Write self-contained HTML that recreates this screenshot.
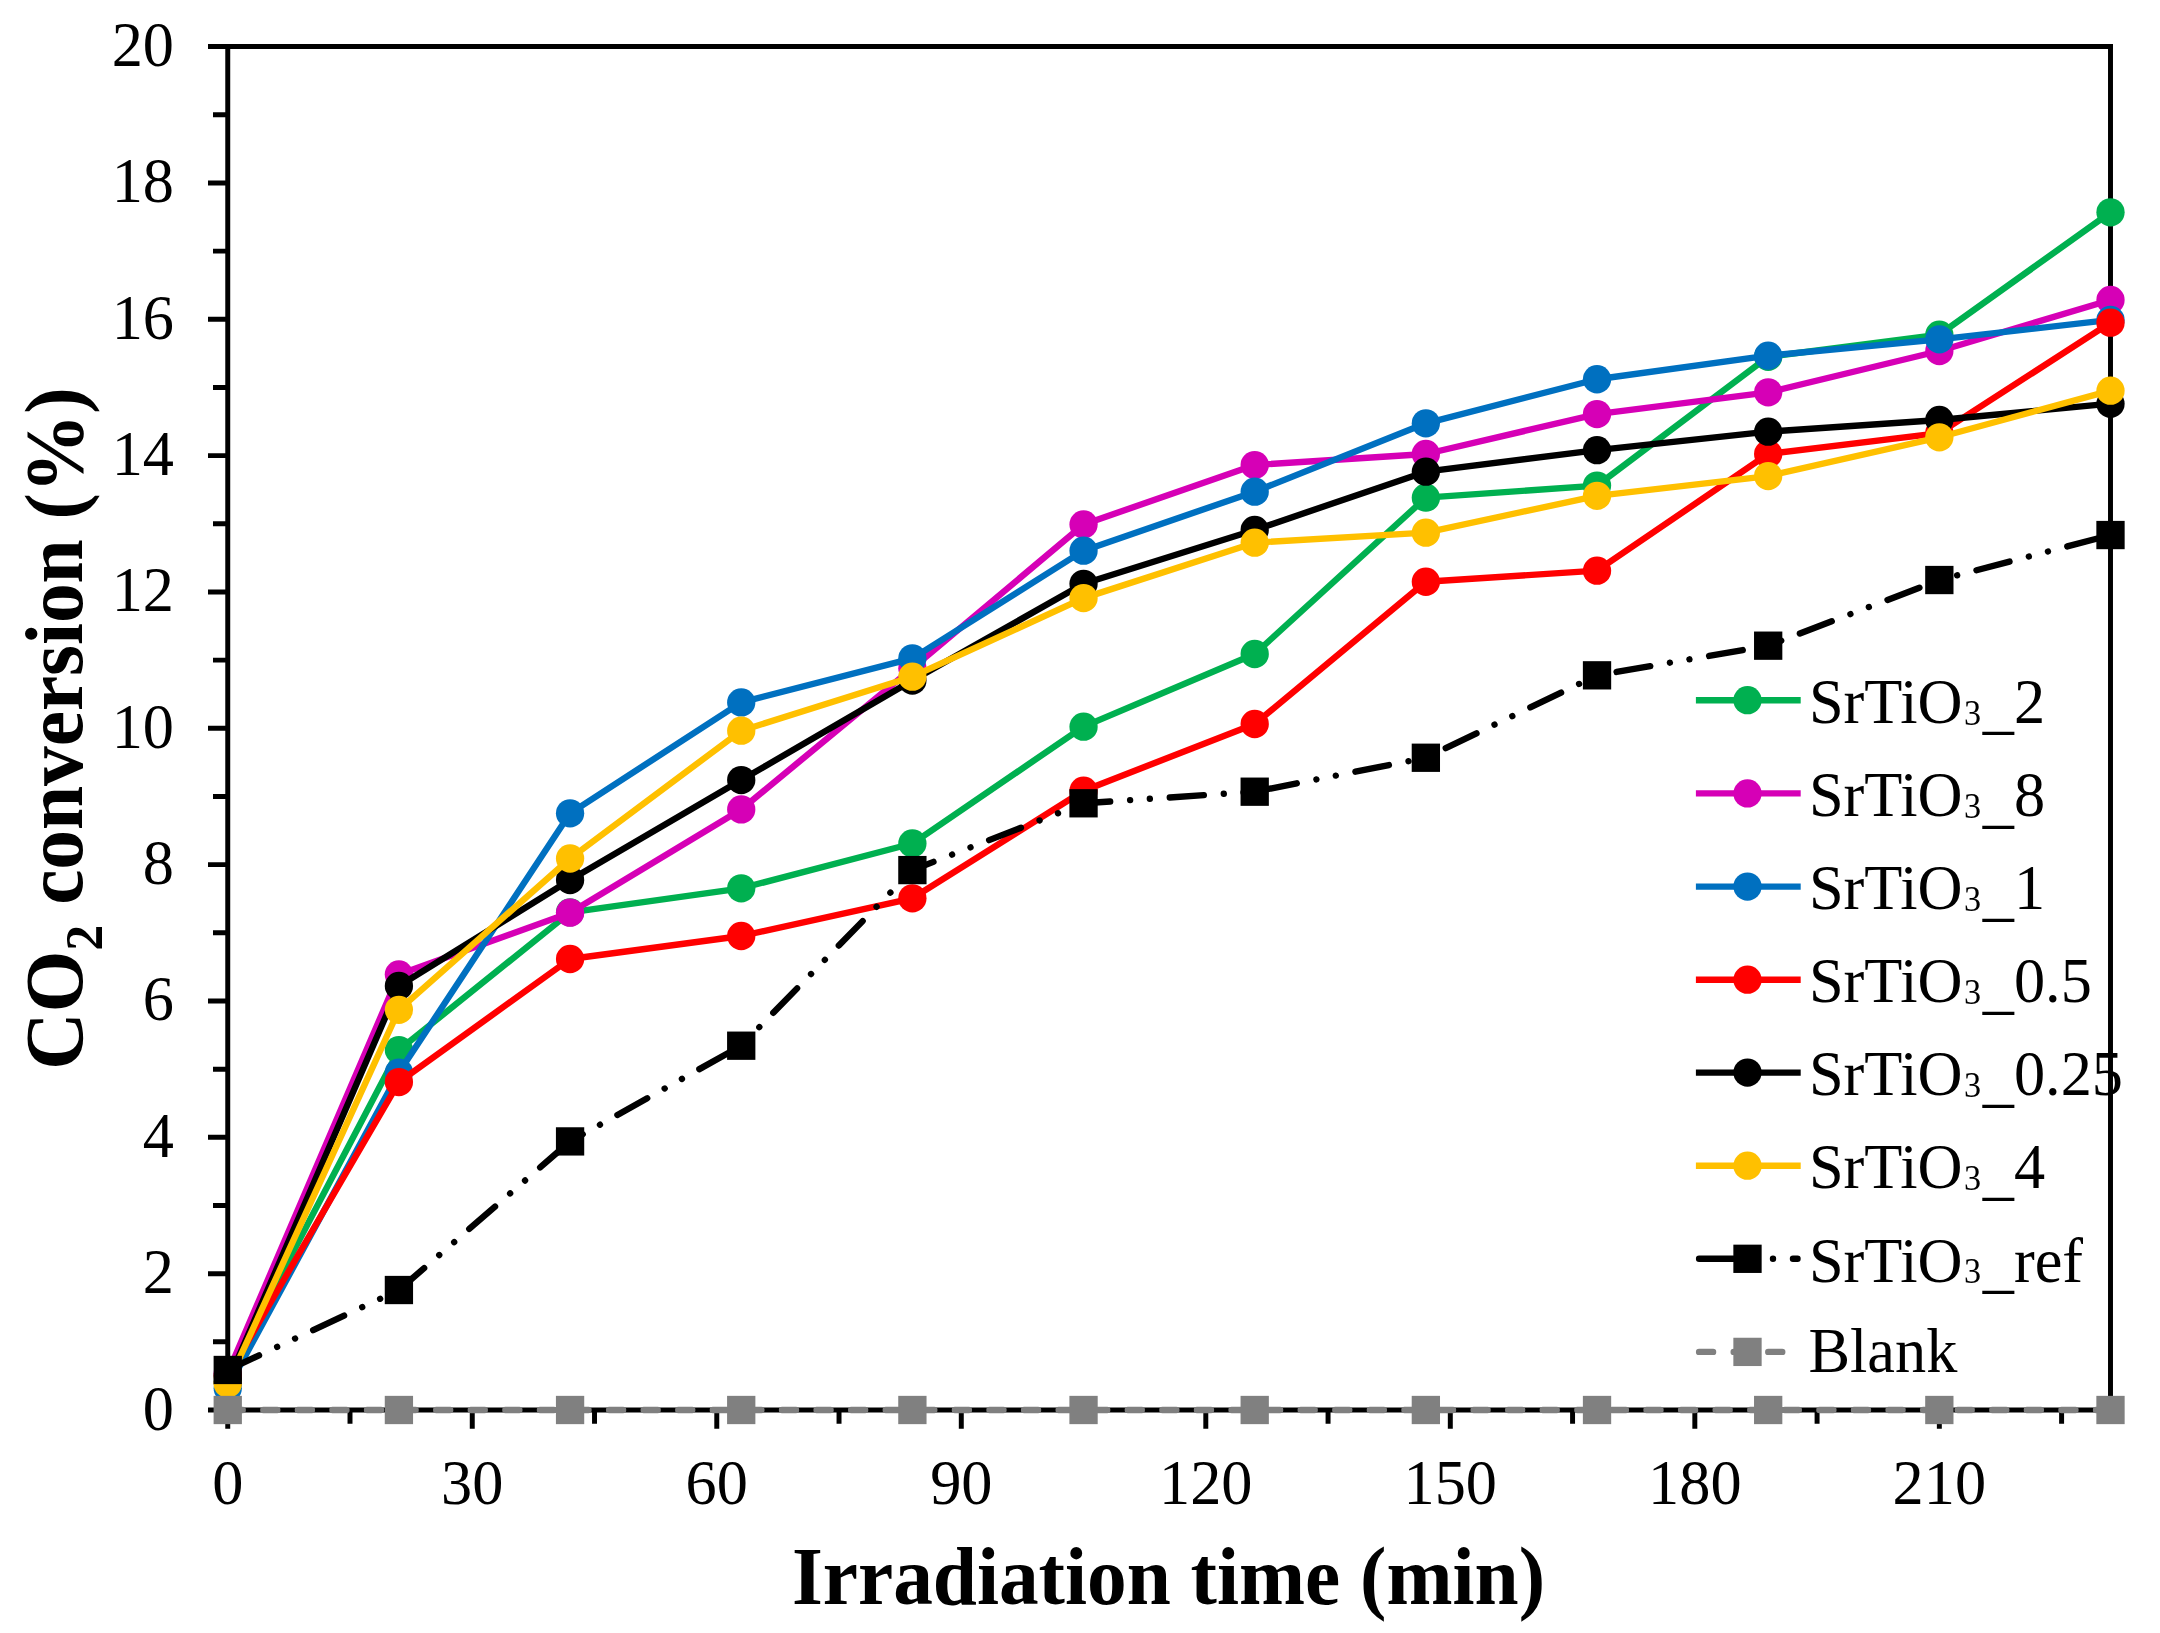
<!DOCTYPE html>
<html lang="en"><head><meta charset="utf-8"><title>CO2 conversion vs irradiation time</title>
<style>
html,body{margin:0;padding:0;background:#fff;}
body{width:2160px;height:1633px;overflow:hidden;}
svg{display:block;}
text{font-family:"Liberation Serif","Times New Roman",Times,serif;fill:#000;}
.tk{font-size:62.3px;}
.lg{font-size:62.3px;}
.s3{font-size:57px;}
.ttl{font-size:79.3px;font-weight:bold;}
.ln{fill:none;stroke-width:6.37;stroke-linejoin:round;}
.ax{fill:none;stroke:#000;stroke-width:4.96;stroke-linecap:butt;}
</style></head><body>
<svg width="2160" height="1633" viewBox="0 0 2160 1633" role="img" aria-label="CO2 conversion versus irradiation time">
<rect x="0" y="0" width="2160" height="1633" fill="#fff"/>
<g class="ax">
<path d="M208 46.6 H2112.98"/>
<path d="M208 1410 H2112.98"/>
<path d="M227.75 44.12 V1412.48"/>
<path d="M2110.5 44.12 V1412.48"/>
<path d="M213 1341.83 H227.75 M208 1273.66 H227.75 M213 1205.49 H227.75 M208 1137.32 H227.75 M213 1069.15 H227.75 M208 1000.98 H227.75 M213 932.81 H227.75 M208 864.64 H227.75 M213 796.47 H227.75 M208 728.3 H227.75 M213 660.13 H227.75 M208 591.96 H227.75 M213 523.79 H227.75 M208 455.62 H227.75 M213 387.45 H227.75 M208 319.28 H227.75 M213 251.11 H227.75 M208 182.94 H227.75 M213 114.77 H227.75"/>
<path d="M227.75 1410 V1428.75 M350.01 1410 V1423.75 M472.26 1410 V1428.75 M594.52 1410 V1423.75 M716.78 1410 V1428.75 M839.03 1410 V1423.75 M961.29 1410 V1428.75 M1083.55 1410 V1423.75 M1205.8 1410 V1428.75 M1328.06 1410 V1423.75 M1450.31 1410 V1428.75 M1572.57 1410 V1423.75 M1694.83 1410 V1428.75 M1817.08 1410 V1423.75 M1939.34 1410 V1428.75 M2061.6 1410 V1423.75"/>
</g>
<text class="tk" text-anchor="end" transform="translate(0 1429.5) scale(1 1.03)" x="174" y="0">0</text>
<text class="tk" text-anchor="end" transform="translate(0 1293.16) scale(1 1.03)" x="174" y="0">2</text>
<text class="tk" text-anchor="end" transform="translate(0 1156.82) scale(1 1.03)" x="174" y="0">4</text>
<text class="tk" text-anchor="end" transform="translate(0 1020.48) scale(1 1.03)" x="174" y="0">6</text>
<text class="tk" text-anchor="end" transform="translate(0 884.14) scale(1 1.03)" x="174" y="0">8</text>
<text class="tk" text-anchor="end" transform="translate(0 747.8) scale(1 1.03)" x="174" y="0">10</text>
<text class="tk" text-anchor="end" transform="translate(0 611.46) scale(1 1.03)" x="174" y="0">12</text>
<text class="tk" text-anchor="end" transform="translate(0 475.12) scale(1 1.03)" x="174" y="0">14</text>
<text class="tk" text-anchor="end" transform="translate(0 338.78) scale(1 1.03)" x="174" y="0">16</text>
<text class="tk" text-anchor="end" transform="translate(0 202.44) scale(1 1.03)" x="174" y="0">18</text>
<text class="tk" text-anchor="end" transform="translate(0 66.1) scale(1 1.03)" x="174" y="0">20</text>
<text class="tk" text-anchor="middle" transform="translate(0 1503.5) scale(1 1.03)" x="227.75" y="0">0</text>
<text class="tk" text-anchor="middle" transform="translate(0 1503.5) scale(1 1.03)" x="472.26" y="0">30</text>
<text class="tk" text-anchor="middle" transform="translate(0 1503.5) scale(1 1.03)" x="716.78" y="0">60</text>
<text class="tk" text-anchor="middle" transform="translate(0 1503.5) scale(1 1.03)" x="961.29" y="0">90</text>
<text class="tk" text-anchor="middle" transform="translate(0 1503.5) scale(1 1.03)" x="1205.8" y="0">120</text>
<text class="tk" text-anchor="middle" transform="translate(0 1503.5) scale(1 1.03)" x="1450.31" y="0">150</text>
<text class="tk" text-anchor="middle" transform="translate(0 1503.5) scale(1 1.03)" x="1694.83" y="0">180</text>
<text class="tk" text-anchor="middle" transform="translate(0 1503.5) scale(1 1.03)" x="1939.34" y="0">210</text>
<text class="ttl" text-anchor="middle" transform="translate(0 1604.1) scale(1 1.03)" x="1168.5" y="0">Irradiation time (min)</text>
<text class="ttl" text-anchor="middle" transform="translate(81.5 728.5) rotate(-90) scale(1 1.03)">CO<tspan font-size="52px" dy="20">2</tspan><tspan dy="-20"> conversion (%)</tspan></text>
<g>
<path class="ln" stroke="#00B050" stroke-linecap="butt" d="M1695.9 700.2 H1800.7"/>
<circle cx="1747.5" cy="700.2" r="14.15" fill="#00B050"/>
<text class="lg" transform="translate(0 722.9) scale(1 1.03)" x="1808.9" y="0">SrTiO<tspan class="s3" x="1962.75" dy="-10">₃</tspan><tspan x="1982.8" dy="14.3">_</tspan><tspan dy="-4.3">2</tspan></text>
<path class="ln" stroke="#D600B6" stroke-linecap="butt" d="M1695.9 793.4 H1800.7"/>
<circle cx="1747.5" cy="793.4" r="14.15" fill="#D600B6"/>
<text class="lg" transform="translate(0 816.1) scale(1 1.03)" x="1808.9" y="0">SrTiO<tspan class="s3" x="1962.75" dy="-10">₃</tspan><tspan x="1982.8" dy="14.3">_</tspan><tspan dy="-4.3">8</tspan></text>
<path class="ln" stroke="#0070C0" stroke-linecap="butt" d="M1695.9 886.6 H1800.7"/>
<circle cx="1747.5" cy="886.6" r="14.15" fill="#0070C0"/>
<text class="lg" transform="translate(0 909.3) scale(1 1.03)" x="1808.9" y="0">SrTiO<tspan class="s3" x="1962.75" dy="-10">₃</tspan><tspan x="1982.8" dy="14.3">_</tspan><tspan dy="-4.3">1</tspan></text>
<path class="ln" stroke="#FF0000" stroke-linecap="butt" d="M1695.9 979.7 H1800.7"/>
<circle cx="1747.5" cy="979.7" r="14.15" fill="#FF0000"/>
<text class="lg" transform="translate(0 1002.4) scale(1 1.03)" x="1808.9" y="0">SrTiO<tspan class="s3" x="1962.75" dy="-10">₃</tspan><tspan x="1982.8" dy="14.3">_</tspan><tspan dy="-4.3">0.5</tspan></text>
<path class="ln" stroke="#000000" stroke-linecap="butt" d="M1695.9 1072.6 H1800.7"/>
<circle cx="1747.5" cy="1072.6" r="14.15" fill="#000000"/>
<text class="lg" transform="translate(0 1095.3) scale(1 1.03)" x="1808.9" y="0">SrTiO<tspan class="s3" x="1962.75" dy="-10">₃</tspan><tspan x="1982.8" dy="14.3">_</tspan><tspan dy="-4.3">0.25</tspan></text>
<path class="ln" stroke="#FFC000" stroke-linecap="butt" d="M1695.9 1165.7 H1800.7"/>
<circle cx="1747.5" cy="1165.7" r="14.15" fill="#FFC000"/>
<text class="lg" transform="translate(0 1188.4) scale(1 1.03)" x="1808.9" y="0">SrTiO<tspan class="s3" x="1962.75" dy="-10">₃</tspan><tspan x="1982.8" dy="14.3">_</tspan><tspan dy="-4.3">4</tspan></text>
<path class="ln" stroke="#000000" stroke-linecap="round" stroke-dasharray="34.15 19.98 0.01 19.76 0.01 19.98" d="M1699.09 1258.8 H1797.52"/>
<rect x="1733.35" y="1244.65" width="28.3" height="28.3" fill="#000000"/>
<text class="lg" transform="translate(0 1281.5) scale(1 1.03)" x="1808.9" y="0">SrTiO<tspan class="s3" x="1962.75" dy="-10">₃</tspan><tspan x="1982.8" dy="14.3">_</tspan><tspan dy="-4.3">ref</tspan></text>
<path class="ln" stroke="#808080" stroke-linecap="round" stroke-dasharray="13.99 20.59" d="M1699.09 1351.9 H1797.52"/>
<rect x="1733.35" y="1337.75" width="28.3" height="28.3" fill="#808080"/>
<text class="lg" transform="translate(0 1371.6) scale(1 1.03)" x="1808.5" y="0">Blank</text>
</g>
<g>
<path class="ln" stroke-linecap="round" stroke="#00B050" d="M227.75 1376.6 L398.91 1050.06 L570.07 912.36 L741.23 888.29 L912.39 843.51 L1083.55 726.66 L1254.7 653.99 L1425.86 497.68 L1597.02 485.61 L1768.18 356.77 L1939.34 334.69 L2110.5 212.32"/>
<circle cx="227.75" cy="1376.6" r="14.15" fill="#00B050"/>
<circle cx="398.91" cy="1050.06" r="14.15" fill="#00B050"/>
<circle cx="570.07" cy="912.36" r="14.15" fill="#00B050"/>
<circle cx="741.23" cy="888.29" r="14.15" fill="#00B050"/>
<circle cx="912.39" cy="843.51" r="14.15" fill="#00B050"/>
<circle cx="1083.55" cy="726.66" r="14.15" fill="#00B050"/>
<circle cx="1254.7" cy="653.99" r="14.15" fill="#00B050"/>
<circle cx="1425.86" cy="497.68" r="14.15" fill="#00B050"/>
<circle cx="1597.02" cy="485.61" r="14.15" fill="#00B050"/>
<circle cx="1768.18" cy="356.77" r="14.15" fill="#00B050"/>
<circle cx="1939.34" cy="334.69" r="14.15" fill="#00B050"/>
<circle cx="2110.5" cy="212.32" r="14.15" fill="#00B050"/>
</g>
<g>
<path class="ln" stroke-linecap="round" stroke="#D600B6" d="M227.75 1373.19 L398.91 974.39 L570.07 912.7 L741.23 809.42 L912.39 668.31 L1083.55 524.47 L1254.7 465.03 L1425.86 453.98 L1597.02 414.04 L1768.18 392.36 L1939.34 350.98 L2110.5 299.99"/>
<circle cx="227.75" cy="1373.19" r="14.15" fill="#D600B6"/>
<circle cx="398.91" cy="974.39" r="14.15" fill="#D600B6"/>
<circle cx="570.07" cy="912.7" r="14.15" fill="#D600B6"/>
<circle cx="741.23" cy="809.42" r="14.15" fill="#D600B6"/>
<circle cx="912.39" cy="668.31" r="14.15" fill="#D600B6"/>
<circle cx="1083.55" cy="524.47" r="14.15" fill="#D600B6"/>
<circle cx="1254.7" cy="465.03" r="14.15" fill="#D600B6"/>
<circle cx="1425.86" cy="453.98" r="14.15" fill="#D600B6"/>
<circle cx="1597.02" cy="414.04" r="14.15" fill="#D600B6"/>
<circle cx="1768.18" cy="392.36" r="14.15" fill="#D600B6"/>
<circle cx="1939.34" cy="350.98" r="14.15" fill="#D600B6"/>
<circle cx="2110.5" cy="299.99" r="14.15" fill="#D600B6"/>
</g>
<g>
<path class="ln" stroke-linecap="round" stroke="#0070C0" d="M227.75 1388.19 L398.91 1072.56 L570.07 813.31 L741.23 702.4 L912.39 658.36 L1083.55 550.65 L1254.7 491.68 L1425.86 423.31 L1597.02 379.27 L1768.18 355.68 L1939.34 339.32 L2110.5 319.96"/>
<circle cx="227.75" cy="1388.19" r="14.15" fill="#0070C0"/>
<circle cx="398.91" cy="1072.56" r="14.15" fill="#0070C0"/>
<circle cx="570.07" cy="813.31" r="14.15" fill="#0070C0"/>
<circle cx="741.23" cy="702.4" r="14.15" fill="#0070C0"/>
<circle cx="912.39" cy="658.36" r="14.15" fill="#0070C0"/>
<circle cx="1083.55" cy="550.65" r="14.15" fill="#0070C0"/>
<circle cx="1254.7" cy="491.68" r="14.15" fill="#0070C0"/>
<circle cx="1425.86" cy="423.31" r="14.15" fill="#0070C0"/>
<circle cx="1597.02" cy="379.27" r="14.15" fill="#0070C0"/>
<circle cx="1768.18" cy="355.68" r="14.15" fill="#0070C0"/>
<circle cx="1939.34" cy="339.32" r="14.15" fill="#0070C0"/>
<circle cx="2110.5" cy="319.96" r="14.15" fill="#0070C0"/>
</g>
<g>
<path class="ln" stroke-linecap="round" stroke="#FF0000" d="M227.75 1375.91 L398.91 1082.1 L570.07 958.99 L741.23 936.01 L912.39 898.32 L1083.55 790.68 L1254.7 724.01 L1425.86 581.73 L1597.02 570.69 L1768.18 453.98 L1939.34 433.12 L2110.5 322.69"/>
<circle cx="227.75" cy="1375.91" r="14.15" fill="#FF0000"/>
<circle cx="398.91" cy="1082.1" r="14.15" fill="#FF0000"/>
<circle cx="570.07" cy="958.99" r="14.15" fill="#FF0000"/>
<circle cx="741.23" cy="936.01" r="14.15" fill="#FF0000"/>
<circle cx="912.39" cy="898.32" r="14.15" fill="#FF0000"/>
<circle cx="1083.55" cy="790.68" r="14.15" fill="#FF0000"/>
<circle cx="1254.7" cy="724.01" r="14.15" fill="#FF0000"/>
<circle cx="1425.86" cy="581.73" r="14.15" fill="#FF0000"/>
<circle cx="1597.02" cy="570.69" r="14.15" fill="#FF0000"/>
<circle cx="1768.18" cy="453.98" r="14.15" fill="#FF0000"/>
<circle cx="1939.34" cy="433.12" r="14.15" fill="#FF0000"/>
<circle cx="2110.5" cy="322.69" r="14.15" fill="#FF0000"/>
</g>
<g>
<path class="ln" stroke-linecap="round" stroke="#000000" d="M227.75 1382.05 L398.91 985.98 L570.07 879.98 L741.23 780.11 L912.39 680.58 L1083.55 583.78 L1254.7 529.99 L1425.86 471.64 L1597.02 450.17 L1768.18 431.69 L1939.34 419.97 L2110.5 403.67"/>
<circle cx="227.75" cy="1382.05" r="14.15" fill="#000000"/>
<circle cx="398.91" cy="985.98" r="14.15" fill="#000000"/>
<circle cx="570.07" cy="879.98" r="14.15" fill="#000000"/>
<circle cx="741.23" cy="780.11" r="14.15" fill="#000000"/>
<circle cx="912.39" cy="680.58" r="14.15" fill="#000000"/>
<circle cx="1083.55" cy="583.78" r="14.15" fill="#000000"/>
<circle cx="1254.7" cy="529.99" r="14.15" fill="#000000"/>
<circle cx="1425.86" cy="471.64" r="14.15" fill="#000000"/>
<circle cx="1597.02" cy="450.17" r="14.15" fill="#000000"/>
<circle cx="1768.18" cy="431.69" r="14.15" fill="#000000"/>
<circle cx="1939.34" cy="419.97" r="14.15" fill="#000000"/>
<circle cx="2110.5" cy="403.67" r="14.15" fill="#000000"/>
</g>
<g>
<path class="ln" stroke-linecap="round" stroke="#FFC000" d="M227.75 1383.75 L398.91 1009.84 L570.07 858.5 L741.23 730.69 L912.39 676.7 L1083.55 598.1 L1254.7 542.67 L1425.86 532.65 L1597.02 495.84 L1768.18 476.07 L1939.34 437.28 L2110.5 390.65"/>
<circle cx="227.75" cy="1383.75" r="14.15" fill="#FFC000"/>
<circle cx="398.91" cy="1009.84" r="14.15" fill="#FFC000"/>
<circle cx="570.07" cy="858.5" r="14.15" fill="#FFC000"/>
<circle cx="741.23" cy="730.69" r="14.15" fill="#FFC000"/>
<circle cx="912.39" cy="676.7" r="14.15" fill="#FFC000"/>
<circle cx="1083.55" cy="598.1" r="14.15" fill="#FFC000"/>
<circle cx="1254.7" cy="542.67" r="14.15" fill="#FFC000"/>
<circle cx="1425.86" cy="532.65" r="14.15" fill="#FFC000"/>
<circle cx="1597.02" cy="495.84" r="14.15" fill="#FFC000"/>
<circle cx="1768.18" cy="476.07" r="14.15" fill="#FFC000"/>
<circle cx="1939.34" cy="437.28" r="14.15" fill="#FFC000"/>
<circle cx="2110.5" cy="390.65" r="14.15" fill="#FFC000"/>
</g>
<g>
<path class="ln" stroke-linecap="round" stroke="#000000" stroke-dasharray="34.15 19.98 0.01 19.76 0.01 19.98" stroke-dashoffset="-0.39" d="M227.75 1369.98 L398.91 1290.02 L570.07 1141.41 L741.23 1045.7 L912.39 870.09 L1083.55 803.29 L1254.7 791.7 L1425.86 757.75 L1597.02 675.33 L1768.18 645.68 L1939.34 580.03 L2110.5 535.04"/>
<rect x="213.6" y="1355.83" width="28.3" height="28.3" fill="#000000"/>
<rect x="384.76" y="1275.87" width="28.3" height="28.3" fill="#000000"/>
<rect x="555.92" y="1127.26" width="28.3" height="28.3" fill="#000000"/>
<rect x="727.08" y="1031.55" width="28.3" height="28.3" fill="#000000"/>
<rect x="898.24" y="855.94" width="28.3" height="28.3" fill="#000000"/>
<rect x="1069.4" y="789.14" width="28.3" height="28.3" fill="#000000"/>
<rect x="1240.55" y="777.55" width="28.3" height="28.3" fill="#000000"/>
<rect x="1411.71" y="743.6" width="28.3" height="28.3" fill="#000000"/>
<rect x="1582.87" y="661.18" width="28.3" height="28.3" fill="#000000"/>
<rect x="1754.03" y="631.53" width="28.3" height="28.3" fill="#000000"/>
<rect x="1925.19" y="565.88" width="28.3" height="28.3" fill="#000000"/>
<rect x="2096.35" y="520.89" width="28.3" height="28.3" fill="#000000"/>
</g>
<g>
<path class="ln" stroke-linecap="round" stroke="#808080" stroke-dasharray="13.99 20.59" stroke-dashoffset="-0.98" d="M227.75 1410 L398.91 1410 L570.07 1410 L741.23 1410 L912.39 1410 L1083.55 1410 L1254.7 1410 L1425.86 1410 L1597.02 1410 L1768.18 1410 L1939.34 1410 L2110.5 1410"/>
<rect x="213.6" y="1395.85" width="28.3" height="28.3" fill="#808080"/>
<rect x="384.76" y="1395.85" width="28.3" height="28.3" fill="#808080"/>
<rect x="555.92" y="1395.85" width="28.3" height="28.3" fill="#808080"/>
<rect x="727.08" y="1395.85" width="28.3" height="28.3" fill="#808080"/>
<rect x="898.24" y="1395.85" width="28.3" height="28.3" fill="#808080"/>
<rect x="1069.4" y="1395.85" width="28.3" height="28.3" fill="#808080"/>
<rect x="1240.55" y="1395.85" width="28.3" height="28.3" fill="#808080"/>
<rect x="1411.71" y="1395.85" width="28.3" height="28.3" fill="#808080"/>
<rect x="1582.87" y="1395.85" width="28.3" height="28.3" fill="#808080"/>
<rect x="1754.03" y="1395.85" width="28.3" height="28.3" fill="#808080"/>
<rect x="1925.19" y="1395.85" width="28.3" height="28.3" fill="#808080"/>
<rect x="2096.35" y="1395.85" width="28.3" height="28.3" fill="#808080"/>
</g>
</svg>
</body></html>
